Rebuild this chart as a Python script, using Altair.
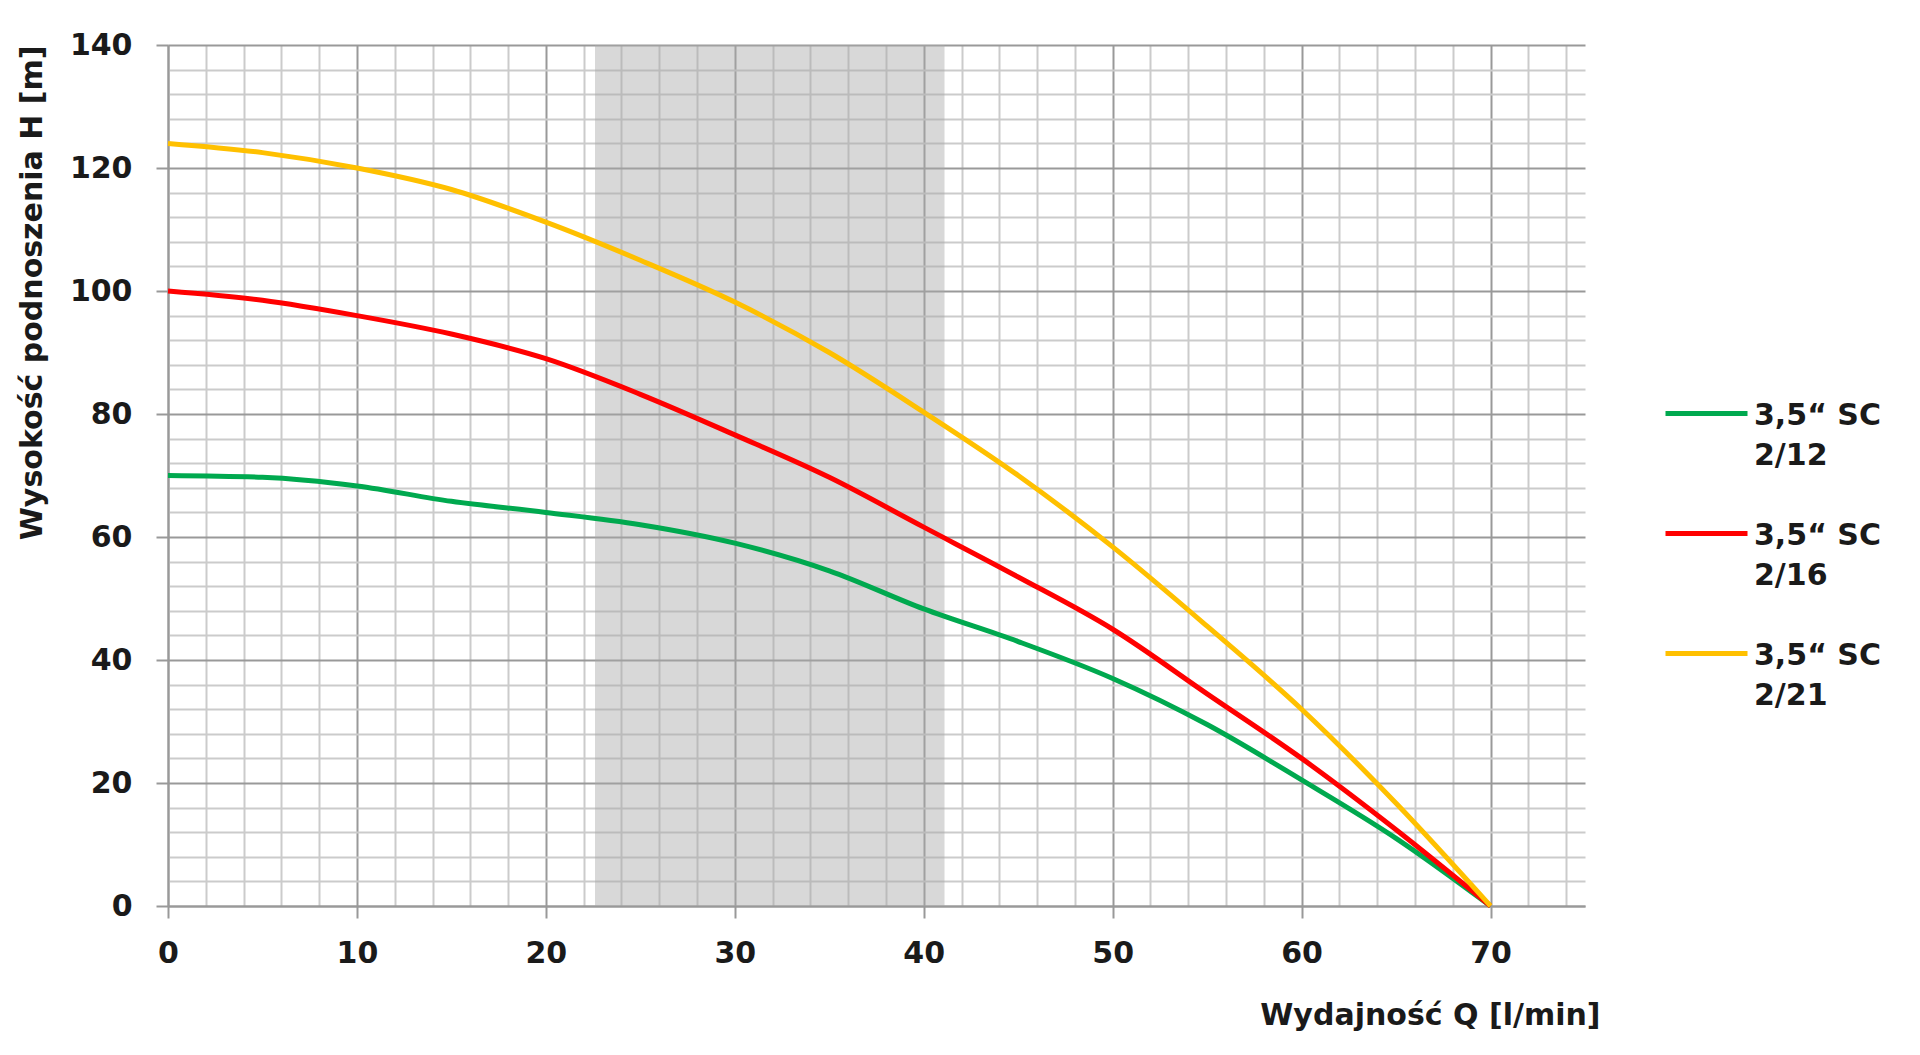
import altair as alt
import pandas as pd

# ---- data ----
q = [0, 5, 10, 15, 20, 25, 30, 35, 40, 45, 50, 55, 60, 65, 70]
h_2_12 = [70, 69.7, 68.3, 65.8, 64, 62, 59, 54.5, 48.3, 43, 37, 29.5, 20.5, 11, 0]
h_2_16 = [100, 98.5, 96, 93, 89, 83.2, 76.6, 69.7, 61.6, 53.5, 45, 34.5, 24, 12.4, 0]
h_2_21 = [124, 122.5, 120, 116.5, 111.2, 105, 98.2, 90, 80.3, 70, 58.4, 45.5, 32, 16.7, 0]

series_names = ["3,5\u201c SC|2/12", "3,5\u201c SC|2/16", "3,5\u201c SC|2/21"]
series_colors = ["#00a94f", "#ff0000", "#ffc000"]

band_q = [22.6, 41.1]
band_h = [0, 140]

x_ticks = list(range(0, 76, 2))
y_ticks = list(range(0, 141, 4))

rows = []
for name, vals in zip(series_names, [h_2_12, h_2_16, h_2_21]):
    for xv, yv in zip(q, vals):
        rows.append({"Q": xv, "H": yv, "pompa": name})
df = pd.DataFrame(rows)
band_df = pd.DataFrame({"q0": [band_q[0]], "q1": [band_q[1]], "h0": [band_h[0]], "h1": [band_h[1]]})

FONT = "DejaVu Sans"
FS = 30
FW = "bold"
TXT = "#1a1a1a"
MAJOR = "#999999"
MINOR = "#cbcbcb"

x_scale = alt.Scale(domain=[0, 75], nice=False, zero=False)
y_scale = alt.Scale(domain=[0, 140], nice=False)

x_axis = alt.Axis(
    values=x_ticks,
    tickCount=500,
    format="d",
    labelExpr="datum.value % 10 === 0 ? datum.label : ''",
    labelOverlap=False,
    labelFlush=False,
    labelBound=False,
    title="Wydajno\u015b\u0107 Q [l/min]",
    titleAnchor="end",
    titleAlign="right",
    titleX=1432,
    titlePadding=32,
    labelPadding=20,
    tickSize=12,
    tickWidth=2,
    tickColor={"condition": {"test": "datum.value % 10 === 0", "value": MAJOR}, "value": "transparent"},
    gridColor={"condition": {"test": "datum.value % 10 === 0", "value": MAJOR}, "value": MINOR},
    gridWidth=2,
    domainColor=MAJOR,
    domainWidth=2,
)
y_axis = alt.Axis(
    values=y_ticks,
    tickCount=500,
    format="d",
    labelExpr="datum.value % 20 === 0 ? datum.label : ''",
    labelOverlap=False,
    labelFlush=False,
    labelBound=False,
    title="Wysoko\u015b\u0107 podnoszenia H [m]",
    titleAnchor="end",
    titlePadding=22,
    labelPadding=24,
    tickSize=12,
    tickWidth=2,
    tickColor={"condition": {"test": "datum.value % 20 === 0", "value": MAJOR}, "value": "transparent"},
    gridColor={"condition": {"test": "datum.value % 20 === 0", "value": MAJOR}, "value": MINOR},
    gridWidth=2,
    domainColor=MAJOR,
    domainWidth=2,
)

band = alt.Chart(band_df).mark_rect(color="#a8a8a8", opacity=0.45).encode(
    x=alt.X("q0:Q", scale=x_scale, axis=x_axis),
    x2="q1:Q",
    y=alt.Y("h0:Q", scale=y_scale, axis=y_axis),
    y2="h1:Q",
)

lines = alt.Chart(df).mark_line(strokeWidth=5, interpolate="monotone").encode(
    x=alt.X("Q:Q", scale=x_scale),
    y=alt.Y("H:Q", scale=y_scale),
    color=alt.Color(
        "pompa:N",
        scale=alt.Scale(domain=series_names, range=series_colors),
        legend=alt.Legend(
            orient="none",
            legendX=1495,
            legendY=336,
            title=None,
            symbolType="M-1,-0.27L1,-0.27",
            symbolSize=6724,
            symbolStrokeWidth=5,
            labelExpr="split(datum.label, '|')",
            labelBaseline="alphabetic",
            labelFont=FONT,
            labelFontSize=FS,
            labelFontWeight=FW,
            labelColor=TXT,
            labelLimit=400,
            labelOffset=4,
            rowPadding=30,
        ),
    ),
)

chart = alt.layer(band, lines).properties(
    width=1417,
    height=861,
    autosize=alt.AutoSizeParams(type="none"),
    padding={"left": 160, "top": 37, "right": 320, "bottom": 140},
).configure(
    style={"guide-label": {"lineHeight": 40}}
).configure_view(stroke=None).configure_axis(
    labelFont=FONT,
    labelFontSize=FS,
    labelFontWeight=FW,
    labelColor=TXT,
    titleFont=FONT,
    titleFontSize=FS,
    titleFontWeight=FW,
    titleColor=TXT,
)

chart.save("out.html", embed_options={"renderer": "svg", "actions": False})
